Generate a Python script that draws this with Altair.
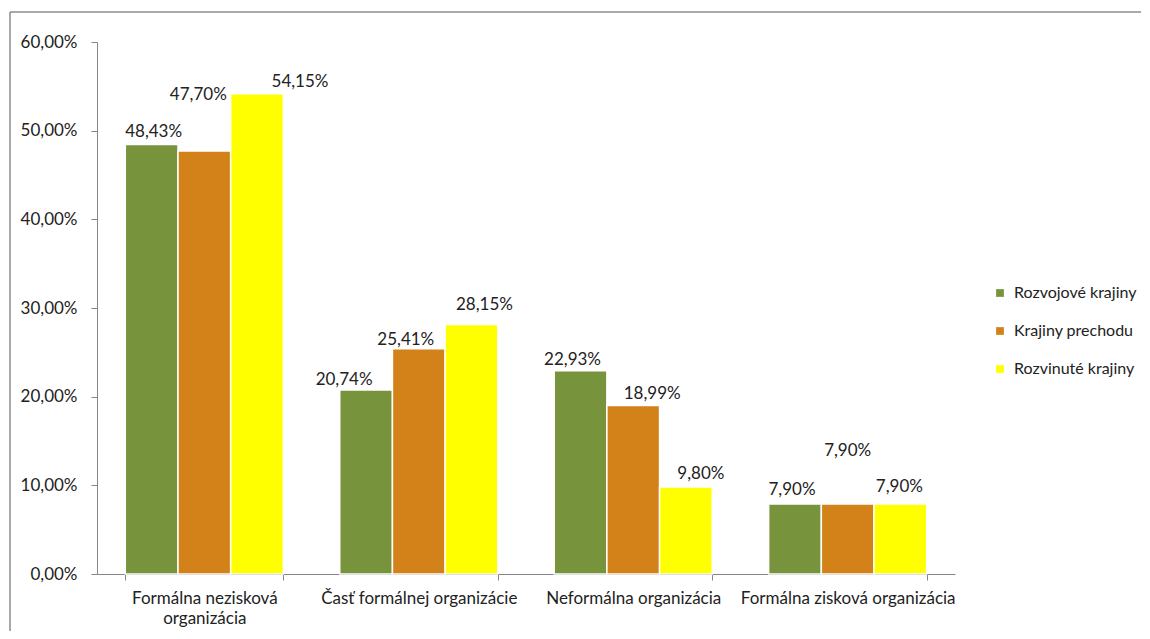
import altair as alt
import pandas as pd

categories = ["Formálna nezisková organizácia", "Časť formálnej organizácie",
              "Neformálna organizácia", "Formálna zisková organizácia"]
series = ["Rozvojové krajiny", "Krajiny prechodu", "Rozvinuté krajiny"]
rozvojove = [0.4843, 0.2074, 0.2293, 0.0790]
prechodu = [0.4770, 0.2541, 0.1899, 0.0790]
rozvinute = [0.5415, 0.2815, 0.0980, 0.0790]
colors = ["#77933C", "#D3821A", "#FFFF00"]

# label nudges as in the reference (pixels): horizontal shift, gap above bar top
label_dx = [[2, -22, -8, -3], [-6, -13, 19, 0], [43, 13, 15, -1]]
label_gap = [[13, 10, 11, 14], [56, 9, 12, 53], [12, 19, 13, 17]]

rows = []
for si, (s, vals) in enumerate(zip(series, [rozvojove, prechodu, rozvinute])):
    for ci, (c, v) in enumerate(zip(categories, vals)):
        rows.append({
            "cat": c, "series": s, "value": v,
            "label": f"{v*100:.2f}".replace(".", ",") + "%",
            "dx": label_dx[si][ci], "gap": label_gap[si][ci],
        })
df = pd.DataFrame(rows)

FONT = "Lato"
FS = 17
LFS = 16

x_enc = alt.X("cat:N", sort=categories, title=None,
              scale=alt.Scale(paddingInner=0.263, paddingOuter=0.132),
              axis=alt.Axis(
                  labelAngle=0, tickBand="extent", tickSize=6, labelPadding=10,
                  labelLimit=0,
                  domainColor="#868686", tickColor="#868686", labelColor="#222",
                  labelFont=FONT, labelFontSize=FS, labelLineHeight=20,
                  labelExpr="datum.value == 'Formálna nezisková organizácia' ? ['Formálna nezisková', 'organizácia'] : datum.value"))
xo_enc = alt.XOffset("series:N", sort=series, scale=alt.Scale(paddingInner=0, paddingOuter=0))
y_enc = alt.Y("value:Q", title=None,
              scale=alt.Scale(domain=[0, 0.6], nice=False),
              axis=alt.Axis(values=[0, 0.1, 0.2, 0.3, 0.4, 0.5, 0.6], grid=False,
                            tickSize=6, labelPadding=14,
                            domainColor="#868686", tickColor="#868686", labelColor="#222",
                            labelFont=FONT, labelFontSize=FS,
                            labelExpr="replace(format(datum.value, '.2%'), '.', ',')"))

bars = alt.Chart(df).mark_bar(stroke="white", strokeWidth=1.5).encode(
    x=x_enc, xOffset=xo_enc, y=y_enc,
    color=alt.Color("series:N", sort=series, title=None,
                    scale=alt.Scale(domain=series, range=colors),
                    legend=alt.Legend(orient="none", legendX=895, legendY=243,
                                      symbolType="square", symbolSize=60,
                                      symbolStrokeWidth=0, labelFont=FONT,
                                      labelFontSize=LFS, labelColor="#222",
                                      rowPadding=22, labelOffset=6, labelLimit=0)),
)

texts = alt.Chart(df).mark_text(
    font=FONT, fontSize=FS, color="#222", baseline="middle", align="center",
    dx=alt.ExprRef(expr="datum.dx"), dy=alt.ExprRef(expr="-datum.gap"),
).encode(x=x_enc, xOffset=xo_enc, y=y_enc, text="label:N")

frame_data = alt.Data(values=[{"a": 1}])
frame_v = alt.Chart(frame_data).mark_rule(color="#8c8c8c", strokeWidth=1.5).encode(
    x=alt.value(-87), y=alt.value(-30), y2=alt.value(620))
frame_h = alt.Chart(frame_data).mark_rule(color="#8c8c8c", strokeWidth=1.5).encode(
    x=alt.value(-87), x2=alt.value(1044), y=alt.value(-30))

chart = alt.layer(bars, texts, frame_v, frame_h).properties(
    width=858, height=532,
    autosize=alt.AutoSizeParams(type="none"),
    padding={"left": 89, "top": 34, "right": 187, "bottom": 57},
).configure_view(stroke=None)

chart.save("out.html", embed_options={"renderer": "svg", "actions": False})
